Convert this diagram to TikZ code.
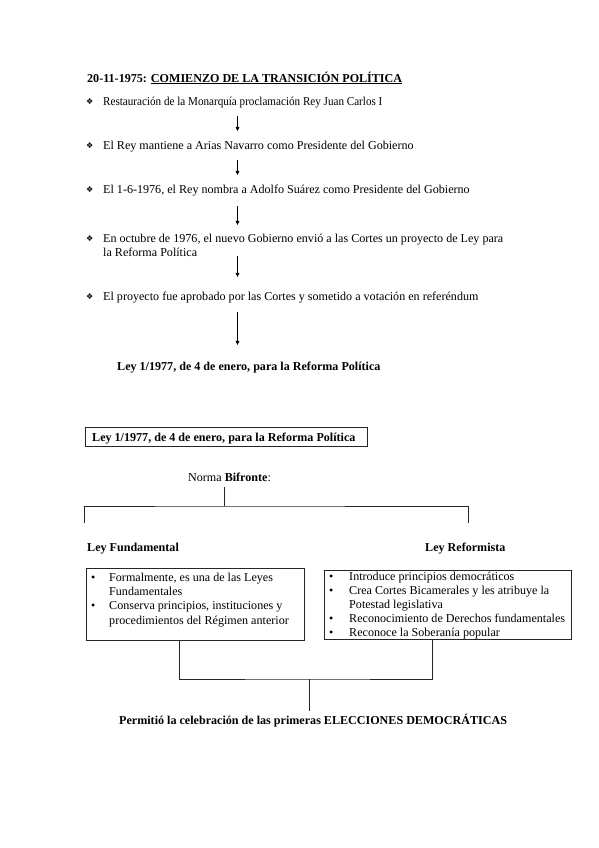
\documentclass[tikz,border=0pt]{standalone}
\usepackage{fontspec}
\setmainfont{Liberation Serif}
\newfontfamily\symfont{DejaVu Sans}
\usetikzlibrary{arrows.meta,fit}
\newcommand\mydia{{\symfont\fontsize{8}{8}\selectfont ❖}}
\begin{document}
\begin{tikzpicture}[x=0.9928pt,y=-0.9928pt, font=\fontsize{12}{13.8}\selectfont,
  txt/.style={anchor=base west, inner sep=0pt},
  flow/.style={draw=black, line width=0.6pt, -{Triangle[length=4pt,width=3.6pt]}},
  ln/.style={draw=black!85, line width=0.7pt},
  frame/.style={draw=black!85, line width=0.7pt, inner sep=0pt}]
\useasboundingbox[fill=white] (0,0) rectangle (599,848);

% ---- top flow ----
\node[txt] (title) at (87,82) {\textbf{20-11-1975: \underline{COMIENZO DE LA TRANSICIÓN POLÍTICA}}};

\node[txt] (d1) at (86,104) {\mydia};
\node[txt] (b1) at (103,105) {\scalebox{0.92}[1]{Restauración de la Monarquía proclamación Rey Juan Carlos I}};
\node[txt] (d2) at (86,148) {\mydia};
\node[txt] (b2) at (103,149) {El Rey mantiene a Arias Navarro como Presidente del Gobierno};
\node[txt] (d3) at (86,192) {\mydia};
\node[txt] (b3) at (103,193) {El 1-6-1976, el Rey nombra a Adolfo Suárez como Presidente del Gobierno};
\node[txt] (d4) at (86,241) {\mydia};
\node[txt] (b4) at (103,242) {En octubre de 1976, el nuevo Gobierno envió a las Cortes un proyecto de Ley para};
\node[txt] (b4b) at (103,256) {la Reforma Política};
\node[txt] (d5) at (86,299) {\mydia};
\node[txt] (b5) at (103,300) {El proyecto fue aprobado por las Cortes y sometido a votación en referéndum};
\node[txt] (res) at (117,370) {\textbf{Ley 1/1977, de 4 de enero, para la Reforma Política}};

\coordinate (a1s) at (237.5,116); \coordinate (a1e) at (237.5,131);
\coordinate (a2s) at (237.5,160); \coordinate (a2e) at (237.5,175);
\coordinate (a3s) at (237.5,206); \coordinate (a3e) at (237.5,225);
\coordinate (a4s) at (237.5,256); \coordinate (a4e) at (237.5,277);
\coordinate (a5s) at (237.5,312); \coordinate (a5e) at (237.5,345);
\draw[flow] (a1s) -- (a1e);
\draw[flow] (a2s) -- (a2e);
\draw[flow] (a3s) -- (a3e);
\draw[flow] (a4s) -- (a4e);
\draw[flow] (a5s) -- (a5e);

% ---- bottom scheme ----
\node[frame, fit={(85,427) (367,446)}] (lawbox) {};
\node[txt] (lawtxt) at (92,441) {\textbf{Ley 1/1977, de 4 de enero, para la Reforma Política}};

\node[txt] (norma) at (188,481) {Norma \textbf{Bifronte}:};
\coordinate (nb) at (224,487);
\coordinate (nj) at (224,506);
\coordinate (tl) at (84.5,523);
\coordinate (tr) at (468.5,523);
\draw[ln] (nb) -- (nj);
\draw[ln] (tl) |- (nj) -| (tr);

\node[txt] (lf) at (87,551) {\textbf{Ley Fundamental}};
\node[txt] (lr) at (425,551) {\textbf{Ley Reformista}};

\node[frame, fit={(86,568) (304,640)}] (lfbox) {};
\node[frame, fit={(324,570) (571,639)}] (rfbox) {};

\node[txt] (lfitems) at (91,581) {\renewcommand\arraystretch{1.04}\begin{tabular}[t]{@{}p{17.9pt}@{}l@{}}
\textbullet & Formalmente, es una de las Leyes\\
 & Fundamentales\\
\textbullet & Conserva principios, instituciones y\\
 & procedimientos del Régimen anterior
\end{tabular}};
\node[txt] (rfitems) at (329,580.5) {\renewcommand\arraystretch{1.0}\begin{tabular}[t]{@{}p{19.9pt}@{}l@{}}
\textbullet & Introduce principios democráticos\\
\textbullet & Crea Cortes Bicamerales y les atribuye la\\
 & Potestad legislativa\\
\textbullet & Reconocimiento de Derechos fundamentales\\
\textbullet & Reconoce la Soberanía popular
\end{tabular}};

\coordinate (lfo) at (179,640);
\coordinate (rfo) at (432,639);
\coordinate (jj) at (309,679);
\coordinate (jb) at (309,711);
\draw[ln] (lfo) |- (jj) -| (rfo);
\draw[ln] (jj) -- (jb);

\node[txt] (fin) at (119,724) {\textbf{Permitió la celebración de las primeras ELECCIONES DEMOCRÁTICAS}};
\end{tikzpicture}
\end{document}
